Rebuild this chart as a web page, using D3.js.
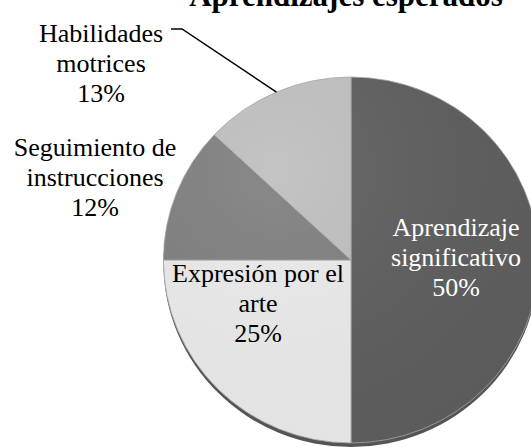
<!DOCTYPE html>
<html>
<head>
<meta charset="utf-8">
<script src="https://cdn.jsdelivr.net/npm/d3@7"></script>
<style>
  body { margin: 0; background: #fff; }
  svg { display: block; }
  svg text { font-family: 'Liberation Serif', 'Times New Roman', Times, 'DejaVu Serif', serif; }
</style>
</head>
<body>
<div id="chart"></div>
<script>
//data
var chartTitle = 'Aprendizajes esperados';
var categories = ['Aprendizaje significativo', 'Expresión por el arte', 'Seguimiento de instrucciones', 'Habilidades motrices'];
var labelLines = [['Aprendizaje', 'significativo'], ['Expresión por el', 'arte'], ['Seguimiento de', 'instrucciones'], ['Habilidades', 'motrices']];
var values = [50, 25, 12, 13];
var pctLabels = ['50%', '25%', '12%', '13%'];
var sliceColors = ['#5e5e5e', '#ebebeb', '#7f7f7f', '#bfbfbf'];
var textColors = ['#ffffff', '#000000', '#000000', '#000000'];

//sizes
var width = 531,
    height = 447,
    cx = 351,
    cy = 260,
    radius = 183,
    lineH = 30;

var serif = "'Liberation Serif', 'Times New Roman', Times, serif";

//label block centres, relative to pie centre (layout only)
var labelOffsets = [[105, -3], [-93, 43], [-256, -83], [-250, -197]];

var svg = d3.select('#chart').append('svg')
    .attr('width', width)
    .attr('height', height);

var defs = svg.append('defs');

var shine = defs.append('radialGradient')
    .attr('id', 'shine')
    .attr('cx', '30%')
    .attr('cy', '25%')
    .attr('r', '85%');
shine.append('stop').attr('offset', '0%').attr('stop-color', '#fff').attr('stop-opacity', 0.08);
shine.append('stop').attr('offset', '100%').attr('stop-color', '#000').attr('stop-opacity', 0.03);

var pie = d3.pie().sort(null).value(function(d) { return d; });
var arcs = pie(values);

var arc = d3.arc().innerRadius(0).outerRadius(radius);
var edgeArc = d3.arc().innerRadius(radius).outerRadius(radius);

var pieG = svg.append('g')
    .attr('transform', 'translate(' + cx + ',' + cy + ') scale(1.025,1)');

//bevel edge underneath
pieG.append('ellipse')
    .attr('cx', 0)
    .attr('cy', 3)
    .attr('rx', radius)
    .attr('ry', radius + 1)
    .attr('fill', '#555');

pieG.selectAll('path.slice')
    .data(arcs)
    .enter().append('path')
    .attr('class', 'slice')
    .attr('d', arc)
    .attr('fill', function(d, i) { return sliceColors[i]; })
    .attr('stroke', '#a8a8a8')
    .attr('stroke-width', 0.8);

pieG.append('circle')
    .attr('r', radius)
    .attr('fill', 'url(#shine)');

//title (cut off at the top like the original)
svg.append('text')
    .attr('x', 346)
    .attr('y', 6)
    .attr('text-anchor', 'middle')
    .attr('font-family', serif)
    .attr('font-size', 31)
    .attr('font-weight', 'bold')
    .attr('fill', '#000')
    .text(chartTitle);

//leader line for the small top slice
var hab = arcs[3];
var edgePt = edgeArc.centroid(hab);
var lx = cx + labelOffsets[3][0],
    ly = cy + labelOffsets[3][1];
svg.append('polyline')
    .attr('points', [
        [lx + 70, ly - 34],
        [lx + 81, ly - 34],
        [cx + edgePt[0] * 1.025, cy + edgePt[1]]
    ].map(function(p) { return p.join(','); }).join(' '))
    .attr('fill', 'none')
    .attr('stroke', '#000')
    .attr('stroke-width', 1.5);

//labels
var labels = svg.selectAll('text.lbl')
    .data(arcs)
    .enter().append('text')
    .attr('class', 'lbl')
    .attr('text-anchor', 'middle')
    .attr('font-family', serif)
    .attr('font-size', 26)
    .attr('fill', function(d, i) { return textColors[i]; })
    .attr('transform', function(d, i) {
        return 'translate(' + (cx + labelOffsets[i][0]) + ',' + (cy + labelOffsets[i][1]) + ')';
    });

labels.each(function(d, i) {
    var lines = labelLines[i].concat([pctLabels[i]]);
    var t = d3.select(this);
    lines.forEach(function(l, j) {
        t.append('tspan')
            .attr('x', 0)
            .attr('y', (j - 1) * lineH + 9)
            .text(l);
    });
});
</script>
</body>
</html>
